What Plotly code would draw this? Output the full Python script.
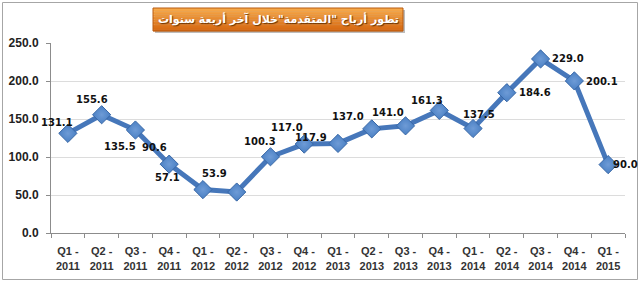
import plotly.graph_objects as go

# ---- data ----
quarters = ["Q1", "Q2", "Q3", "Q4", "Q1", "Q2", "Q3", "Q4", "Q1", "Q2", "Q3", "Q4",
            "Q1", "Q2", "Q3", "Q4", "Q1"]
years = ["2011", "2011", "2011", "2011", "2012", "2012", "2012", "2012",
         "2013", "2013", "2013", "2013", "2014", "2014", "2014", "2014", "2015"]
profits = [131.1, 155.6, 135.5, 90.6, 57.1, 53.9, 100.3, 117.0, 117.9,
           137.0, 141.0, 161.3, 137.5, 184.6, 229.0, 200.1, 90.0]
title_text = 'تطور أرباح "المتقدمة"خلال آخر أربعة سنوات'

categories = [f"{q} -<br>{y}" for q, y in zip(quarters, years)]

# label offsets (pixels) – styling only
label_dx = [-11, -10, -15, -15, -35, -22, -10, -17, -27, -24, -18, -12, 6, 28, 27, 28, 17]
label_dy = [-11, -15, 16, -17, -12, -19, -15, -17, -6, -12, -13, -10, -14, 0, 0, 1, 0]

W, H = 640, 281
ML, MR, MT, MB = 51, 15, 43, 48
PW, PH = W - ML - MR, H - MT - MB


def px_x(p):
    return (p - ML) / PW


def px_y(p):
    return (H - MB - p) / PH


fig = go.Figure()
fig.add_trace(go.Scatter(
    x=categories, y=profits, mode="lines+markers",
    line=dict(color="#4677BA", width=5),
    marker=dict(symbol="diamond", size=14, color="#4A80C4",
                line=dict(color="#3867A6", width=1),
                gradient=dict(type="radial", color="#6E9BD6")),
    hoverinfo="skip", showlegend=False,
))

for c, v, dx, dy in zip(categories, profits, label_dx, label_dy):
    fig.add_annotation(x=c, y=v, text=f"{v:.1f}", showarrow=False,
                       xshift=dx, yshift=-dy,
                       font=dict(family="DejaVu Sans", size=10, color="#111111", weight="bold"))


def hexcol(c):
    return "#%02x%02x%02x" % c


shapes = []
# outer frame
shapes.append(dict(type="rect", xref="paper", yref="paper", layer="below",
                   x0=px_x(2.5), x1=px_x(637.5), y0=px_y(279.5), y1=px_y(2.5),
                   line=dict(color="#A6A6A6", width=1), fillcolor="rgba(0,0,0,0)"))
bx0, bx1, by0, by1 = 153, 403, 8, 31
# soft shadow under box
shapes.append(dict(type="rect", xref="paper", yref="paper", layer="below",
                   x0=px_x(bx0 + 2), x1=px_x(bx1 + 2), y0=px_y(by1 + 2), y1=px_y(by0 + 2),
                   line=dict(width=0), fillcolor="#BDBDBD"))
# title box gradient
top_c = (247, 170, 75)
bot_c = (214, 104, 18)
n = 14
for i in range(n):
    t = i / (n - 1)
    col = tuple(int(top_c[k] + (bot_c[k] - top_c[k]) * t) for k in range(3))
    ya = by0 + (by1 - by0) * i / n
    yb = by0 + (by1 - by0) * (i + 1) / n + 0.3
    shapes.append(dict(type="rect", xref="paper", yref="paper", layer="below",
                       x0=px_x(bx0), x1=px_x(bx1), y0=px_y(yb), y1=px_y(ya),
                       line=dict(width=0), fillcolor=hexcol(col)))
shapes.append(dict(type="rect", xref="paper", yref="paper", layer="below",
                   x0=px_x(bx0), x1=px_x(bx1), y0=px_y(by1), y1=px_y(by0),
                   line=dict(color="#B85A10", width=1), fillcolor="rgba(0,0,0,0)"))

fig.add_annotation(xref="paper", yref="paper", x=px_x((bx0 + bx1) / 2), y=px_y((by0 + by1) / 2),
                   text=title_text, showarrow=False, xanchor="center", yanchor="middle",
                   font=dict(family="DejaVu Sans", size=11, color="white", weight="bold",
                             shadow="1px 1px 1px #6b3300"))

fig.update_layout(
    width=W, height=H,
    margin=dict(l=ML, r=MR, t=MT, b=MB),
    paper_bgcolor="white", plot_bgcolor="white",
    shapes=shapes,
    xaxis=dict(type="category", showgrid=False, showline=True, linecolor="#8C8C8C", linewidth=1,
               ticks="outside", tickson="boundaries", ticklen=4, tickcolor="#8C8C8C",
               tickangle=0, automargin=False,
               tickfont=dict(family="Liberation Sans", size=11, color="#333333", weight="bold"),
               ticklabelstandoff=8, range=[-0.5, len(categories) - 0.5], fixedrange=True),
    yaxis=dict(range=[0, 250], dtick=50, tickformat=".1f", showgrid=True, gridcolor="#DCDCDC",
               showline=True, linecolor="#8C8C8C", linewidth=1, ticks="outside", ticklen=4,
               tickcolor="#8C8C8C", zeroline=False, automargin=False,
               tickfont=dict(family="Liberation Sans", size=12, color="#222222", weight="bold"),
               ticklabelstandoff=5, fixedrange=True),
)

fig.write_html("out.html")
